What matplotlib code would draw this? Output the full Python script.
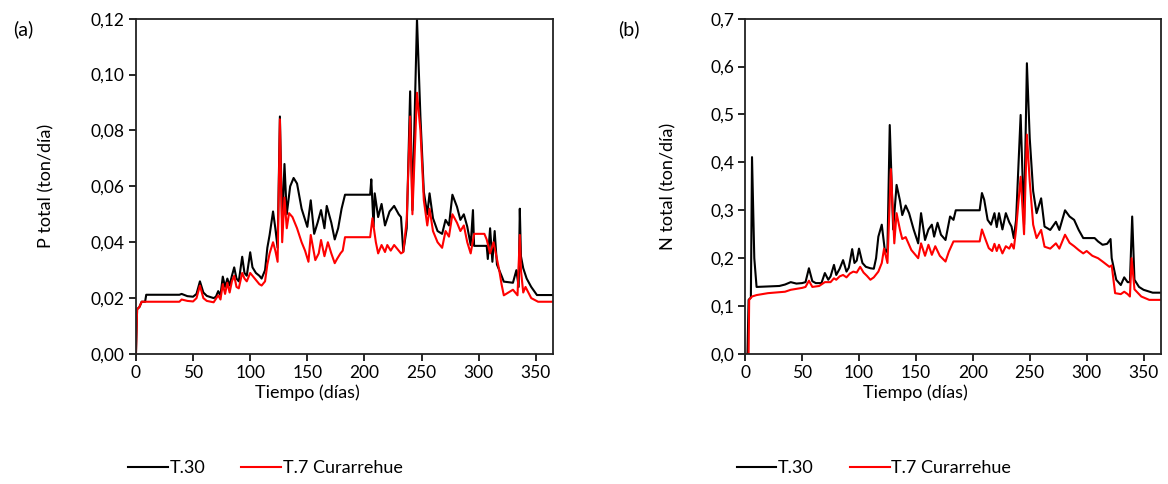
import numpy as np
import matplotlib
matplotlib.use("Agg")
import matplotlib.pyplot as plt
from matplotlib.ticker import FuncFormatter

plt.rcParams['font.family'] = ['Lato', 'DejaVu Sans']

# %% data (breakpoints: day, value)
p_t30_days = [0, 1, 3, 5, 8, 9, 38, 40, 45, 50, 53, 56, 59, 62, 68, 70, 72, 74, 76, 78, 80, 82, 84, 86, 88,
              90, 93, 95, 97, 100, 102, 105, 108, 110, 113, 115, 117, 120, 122, 124, 126, 128, 130, 132, 135,
              138, 141, 145, 150, 153, 156, 159, 162, 165, 167, 171, 174, 177, 180, 183, 205, 206, 208, 209,
              212, 215, 218, 222, 226, 230, 232, 234, 237, 240, 242, 246, 249, 252, 255, 257, 260, 264, 268,
              271, 274, 277, 281, 284, 287, 290, 293, 295, 296, 307, 308, 310, 312, 314, 316, 318, 320, 322,
              330, 333, 335, 336, 337, 339, 342, 346, 351, 365]
p_t30_vals = [0.0, 0.016, 0.0168, 0.0187, 0.0187, 0.0212, 0.0212, 0.0215, 0.0207, 0.0205, 0.0215, 0.026,
              0.022, 0.0208, 0.020, 0.0205, 0.0225, 0.021, 0.0277, 0.024, 0.027, 0.0245, 0.028, 0.031, 0.027,
              0.026, 0.0348, 0.029, 0.028, 0.0364, 0.031, 0.029, 0.028, 0.027, 0.030, 0.038, 0.0426, 0.051,
              0.045, 0.038, 0.085, 0.046, 0.068, 0.050, 0.060, 0.063, 0.061, 0.052, 0.0455, 0.055, 0.043,
              0.047, 0.0515, 0.045, 0.053, 0.047, 0.041, 0.045, 0.052, 0.057, 0.057, 0.0625, 0.0455, 0.0575,
              0.049, 0.0537, 0.046, 0.051, 0.053, 0.050, 0.049, 0.0366, 0.045, 0.094, 0.0515, 0.12, 0.085,
              0.058, 0.050, 0.0575, 0.0486, 0.044, 0.043, 0.048, 0.046, 0.057, 0.0527, 0.048, 0.050, 0.0456,
              0.039, 0.0515, 0.0387, 0.0387, 0.034, 0.045, 0.033, 0.044, 0.032, 0.030, 0.028, 0.0259, 0.0255,
              0.030, 0.024, 0.052, 0.035, 0.0307, 0.027, 0.024, 0.0211, 0.0211]

p_t7_days = [0, 1, 3, 5, 38, 40, 45, 50, 53, 56, 59, 62, 68, 72, 74, 76, 78, 80, 82, 84, 86, 88, 90, 93, 95,
             97, 100, 102, 105, 108, 110, 113, 115, 117, 120, 122, 124, 126, 128, 130, 132, 134, 137, 141,
             145, 148, 151, 153, 157, 160, 162, 165, 168, 171, 174, 176, 179, 181, 183, 205, 207, 210, 212,
             215, 218, 220, 223, 226, 230, 232, 234, 237, 240, 242, 246, 249, 252, 255, 257, 260, 264, 268,
             271, 274, 277, 281, 284, 287, 290, 293, 296, 305, 307, 310, 313, 316, 318, 320, 322, 330, 334,
             336, 337, 339, 341, 346, 352, 365]
p_t7_vals = [0.0, 0.016, 0.0168, 0.0187, 0.0187, 0.0195, 0.019, 0.0188, 0.020, 0.0245, 0.020, 0.019, 0.0185,
             0.021, 0.0195, 0.025, 0.0215, 0.0255, 0.022, 0.026, 0.028, 0.024, 0.0235, 0.029, 0.027, 0.026,
             0.029, 0.028, 0.0265, 0.025, 0.0245, 0.026, 0.032, 0.036, 0.040, 0.037, 0.033, 0.084, 0.040,
             0.056, 0.045, 0.0504, 0.049, 0.045, 0.040, 0.037, 0.033, 0.0426, 0.0336, 0.036, 0.0408, 0.035,
             0.040, 0.036, 0.0325, 0.034, 0.036, 0.037, 0.0418, 0.0418, 0.0486, 0.040, 0.036, 0.039, 0.0365,
             0.039, 0.037, 0.039, 0.037, 0.036, 0.0365, 0.048, 0.085, 0.050, 0.0935, 0.080, 0.055, 0.046,
             0.052, 0.044, 0.040, 0.038, 0.044, 0.042, 0.050, 0.047, 0.044, 0.046, 0.040, 0.036, 0.043, 0.043,
             0.041, 0.036, 0.040, 0.034, 0.030, 0.025, 0.021, 0.023, 0.021, 0.0426, 0.030, 0.022, 0.024,
             0.020, 0.0187, 0.0187]

n_t30_days = [0, 2, 3, 5, 6, 8, 10, 30, 35, 40, 45, 50, 53, 56, 59, 62, 67, 70, 73, 75, 78, 80, 83, 86, 89,
              91, 94, 96, 98, 100, 103, 106, 110, 113, 115, 117, 120, 123, 125, 127, 130, 133, 136, 138, 141,
              144, 148, 152, 154.5, 158, 161, 164, 166, 169, 172, 176, 180, 183, 185, 206, 208, 210, 213, 216,
              219, 221, 223, 226, 229, 232, 234, 236, 238, 242, 245, 247.5, 250, 253, 256, 260, 263, 268, 273,
              276, 281, 285, 289, 293, 297, 307, 310, 314, 318, 321, 322, 326, 330, 333, 336, 338, 340, 342,
              346, 350, 358, 365]
n_t30_vals = [0.0, 0.0, 0.113, 0.118, 0.411, 0.2, 0.14, 0.142, 0.145, 0.15, 0.147, 0.148, 0.15, 0.179, 0.152,
              0.148, 0.148, 0.169, 0.155, 0.162, 0.186, 0.165, 0.178, 0.196, 0.172, 0.18, 0.219, 0.19, 0.195,
              0.22, 0.19, 0.182, 0.179, 0.178, 0.2, 0.245, 0.27, 0.21, 0.22, 0.478, 0.26, 0.353, 0.32, 0.29,
              0.31, 0.294, 0.26, 0.231, 0.294, 0.238, 0.26, 0.27, 0.245, 0.274, 0.249, 0.238, 0.287, 0.28, 0.30,
              0.30, 0.336, 0.322, 0.28, 0.27, 0.294, 0.265, 0.294, 0.26, 0.294, 0.275, 0.266, 0.242, 0.28,
              0.499, 0.27, 0.607, 0.45, 0.34, 0.294, 0.325, 0.266, 0.259, 0.276, 0.259, 0.30, 0.287, 0.28,
              0.259, 0.242, 0.242, 0.235, 0.228, 0.23, 0.24, 0.2, 0.155, 0.144, 0.16, 0.15, 0.15, 0.287, 0.155,
              0.14, 0.134, 0.128, 0.128]

n_t7_days = [0, 3, 3.5, 6, 10, 20, 35, 40, 50, 53, 56, 59, 65, 70, 75, 78, 80, 83, 86, 89, 92, 95, 98, 101,
             104, 107, 110, 113, 117, 120, 122, 125, 128, 131, 133, 136, 138, 141, 146, 152, 154.5, 158, 161,
             164, 167, 171, 176, 179, 183, 206, 208, 211, 214, 217, 219, 221, 223, 226, 229, 232, 234, 236, 238,
             242, 245, 247.5, 250, 253, 256, 260, 263, 268, 273, 276, 281, 285, 289, 293, 297, 300, 305, 310,
             314, 320, 322, 325, 330, 333, 336, 338, 339.5, 342, 348, 355, 365]
n_t7_vals = [0.0, 0.0, 0.113, 0.12, 0.123, 0.127, 0.13, 0.134, 0.138, 0.14, 0.153, 0.14, 0.142, 0.15, 0.15,
             0.158, 0.155, 0.162, 0.165, 0.16, 0.168, 0.172, 0.17, 0.182, 0.17, 0.163, 0.155, 0.16, 0.172, 0.19,
             0.22, 0.19, 0.386, 0.231, 0.294, 0.259, 0.24, 0.244, 0.217, 0.2, 0.231, 0.205, 0.228, 0.207, 0.225,
             0.205, 0.193, 0.214, 0.235, 0.235, 0.26, 0.24, 0.221, 0.215, 0.23, 0.215, 0.228, 0.21, 0.225, 0.22,
             0.23, 0.22, 0.26, 0.37, 0.25, 0.458, 0.36, 0.27, 0.242, 0.259, 0.224, 0.22, 0.231, 0.22, 0.249,
             0.232, 0.225, 0.217, 0.21, 0.215, 0.205, 0.2, 0.193, 0.182, 0.185, 0.127, 0.125, 0.13, 0.125, 0.12,
             0.2, 0.135, 0.12, 0.113, 0.113]

SERIES_LABELS = ['T.30', 'T.7 Curarrehue']
PANEL_TAGS = ['(a)', '(b)']
Y_LABELS = ['P total (ton/día)', 'N total (ton/día)']
X_LABEL = 'Tiempo (días)'
X_TICKS = [0, 50, 100, 150, 200, 250, 300, 350]
Y_TICKS_A = [0.00, 0.02, 0.04, 0.06, 0.08, 0.10, 0.12]
Y_TICKS_B = [0.0, 0.1, 0.2, 0.3, 0.4, 0.5, 0.6, 0.7]

# %%
fig = plt.figure(figsize=(11.68, 4.84), dpi=100)
ax_a = fig.add_axes([0.1164, 0.2686, 0.357, 0.6928])
ax_b = fig.add_axes([0.638, 0.2686, 0.3557, 0.6928])

panels = [
    (ax_a, p_t30_days, p_t30_vals, p_t7_days, p_t7_vals, Y_TICKS_A, 2),
    (ax_b, n_t30_days, n_t30_vals, n_t7_days, n_t7_vals, Y_TICKS_B, 1),
]

for i, (ax, d1, v1, d2, v2, yt, nd) in enumerate(panels):
    ax.plot(d1, v1, color='black', lw=1.5, label=SERIES_LABELS[0])
    ax.plot(d2, v2, color='#ff0000', lw=1.5, label=SERIES_LABELS[1])
    ax.set_xlim(0, 365)
    ax.set_ylim(yt[0], yt[-1])
    ax.set_xticks(X_TICKS)
    ax.set_yticks(yt)
    ax.yaxis.set_major_formatter(FuncFormatter(lambda v, p, nd=nd: f"{v:.{nd}f}".replace('.', ',')))
    ax.tick_params(direction='out', length=5, width=1.2, labelsize=12.5, pad=3)
    for sp in ax.spines.values():
        sp.set_linewidth(1.3)
        sp.set_color('#222222')
    ax.set_xlabel(X_LABEL, fontsize=13)
    ax.xaxis.set_label_coords(0.41, -0.09)
    ax.set_ylabel(Y_LABELS[i], fontsize=13)
    ax.yaxis.set_label_coords(-0.195 if i == 0 else -0.165, 0.5)
    ax.text(-0.295 if i == 0 else -0.305, 0.97, PANEL_TAGS[i], transform=ax.transAxes,
            fontsize=14, ha='left', va='center')
    ax.legend(loc='center', bbox_to_anchor=(0.31, -0.34), ncol=2, frameon=False, fontsize=13,
              handlelength=2.2, handletextpad=0.1, columnspacing=2.0)

fig.savefig('out.png', dpi=100)
